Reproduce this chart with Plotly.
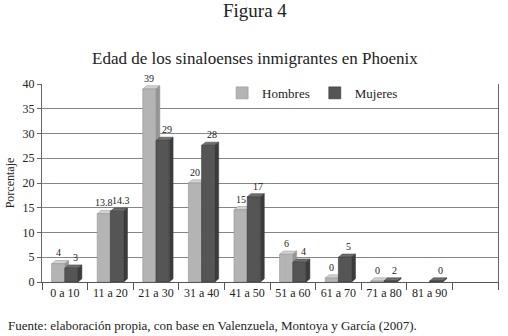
import plotly.graph_objects as go

categories = ["0 a 10", "11 a 20", "21 a 30", "31 a 40", "41 a 50", "51 a 60",
              "61 a 70", "71 a 80", "81 a 90", " "]
hombres = [3.7, 13.8, 39, 20, 14.6, 5.6, 0.8, 0.2, None, None]
mujeres = [2.8, 14.3, 28.6, 27.6, 17.2, 4.0, 5.0, 0.2, 0.2, None]
hombres_labels = ["4", "13.8", "39", "20", "15", "6", "0", "0", "", ""]
mujeres_labels = ["3", "14.3", "29", "28", "17", "4", "5", "2", "0", ""]
y_ticks = [0, 5, 10, 15, 20, 25, 30, 35, 40]

FONT = "Liberation Serif, DejaVu Serif, serif"
BARGAP = 0.42
DX = 0.085   # depth of the pseudo-3D faces, in category units
DY = 0.65    # depth of the pseudo-3D faces, in data units

series = [
    ("Hombres", hombres, hombres_labels, "#b4b4b4", "#d2d2d2", "#959595", -2),
    ("Mujeres", mujeres, mujeres_labels, "#555555", "#6e6e6e", "#3b3b3b", 2),
]

fig = go.Figure()
w = (1 - BARGAP) / 2
for k, (name, vals, labels, front, top, side, lab_shift) in enumerate(series):
    fig.add_trace(go.Bar(
        x=list(range(len(categories))), y=vals, name=name,
        marker=dict(color=front, line=dict(color=side, width=0.6)),
    ))
    # pseudo-3D top and side faces and value labels derived from the data through the axes
    for i, v in enumerate(vals):
        if v is None:
            continue
        x0 = i - w + k * w
        x1 = x0 + w
        fig.add_shape(type="path", layer="between", xref="x", yref="y",
                      path=f"M {x0} {v} L {x0+DX} {v+DY} L {x1+DX} {v+DY} L {x1} {v} Z",
                      fillcolor=top, line=dict(color=side, width=0.5))
        fig.add_shape(type="path", layer="between", xref="x", yref="y",
                      path=f"M {x1} 0 L {x1+DX} {DY} L {x1+DX} {v+DY} L {x1} {v} Z",
                      fillcolor=side, line=dict(color=side, width=0.5))
        if labels[i]:
            fig.add_annotation(x=(x0 + x1) / 2 + DX / 2, y=v + DY, xref="x", yref="y",
                               text=labels[i], showarrow=False, xanchor="center",
                               yanchor="bottom", yshift=0, xshift=lab_shift,
                               font=dict(family=FONT, size=10, color="#222"))

fig.update_layout(
    width=508, height=336,
    margin=dict(l=42, r=10, t=84, b=54),
    paper_bgcolor="white", plot_bgcolor="white",
    font=dict(family=FONT, color="#222"),
    barmode="group", bargap=BARGAP, bargroupgap=0.0,
    showlegend=True,
    legend=dict(orientation="h", x=0.395, y=0.955, xanchor="left", yanchor="middle",
                font=dict(family=FONT, size=13, color="#222"),
                bgcolor="rgba(0,0,0,0)", traceorder="normal"),
)
fig.update_xaxes(
    tickmode="array", tickvals=list(range(len(categories))), ticktext=categories,
    range=[-0.5, len(categories) - 0.5],
    showline=True, linecolor="#555", linewidth=1, mirror=False,
    ticks="", tickfont=dict(family=FONT, size=12, color="#222"),
    showgrid=False, automargin=False, zeroline=False,
    minor=dict(tickvals=[i - 0.5 for i in range(len(categories) + 1)],
               ticks="outside", ticklen=7, tickcolor="#555", showgrid=False),
)
fig.update_yaxes(
    range=[0, 40], tickvals=y_ticks, ticktext=[str(v) for v in y_ticks],
    showline=True, linecolor="#666", linewidth=1, mirror=True,
    ticks="outside", ticklen=4, tickcolor="#666",
    showgrid=True, gridcolor="#858585", gridwidth=1,
    tickfont=dict(family=FONT, size=12, color="#222"),
    title=dict(text="Porcentaje", font=dict(family=FONT, size=12, color="#222"), standoff=5),
    zeroline=False, automargin=False,
)

fig.add_annotation(text="Figura 4", xref="paper", yref="paper",
                   x=(255 - 42) / 456, y=1 + (84 - 11) / 198,
                   xanchor="center", yanchor="middle", showarrow=False,
                   font=dict(family=FONT, size=19, color="#222"))
fig.add_annotation(text="Edad de los sinaloenses inmigrantes en Phoenix", xref="paper", yref="paper",
                   x=(255 - 42) / 456, y=1 + (84 - 58) / 198,
                   xanchor="center", yanchor="middle", showarrow=False,
                   font=dict(family=FONT, size=17, color="#222"))
fig.add_annotation(text="Fuente: elaboración propia, con base en Valenzuela, Montoya y García (2007).",
                   xref="paper", yref="paper",
                   x=(6 - 42) / 456, y=-(325 - 282) / 198,
                   xanchor="left", yanchor="middle", showarrow=False,
                   font=dict(family=FONT, size=13, color="#222"))

fig.write_html("out.html", config={"displayModeBar": False},
               post_script="document.body.style.margin='0px';")
